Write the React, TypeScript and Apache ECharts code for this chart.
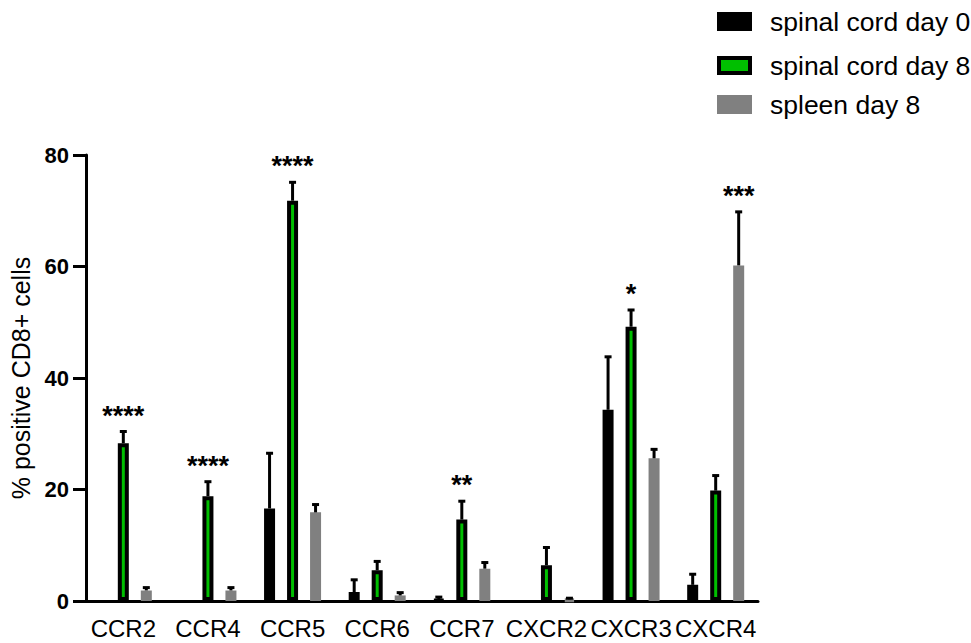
import React, { useEffect, useRef } from "react";
import * as echarts from "echarts";

const categories = ["CCR2", "CCR4", "CCR5", "CCR6", "CCR7", "CXCR2", "CXCR3", "CXCR4"];
const seriesNames = ["spinal cord day 0", "spinal cord day 8", "spleen day 8"];
const day0Means = [0, 0, 16.6, 1.6, 0.2, 0, 34.3, 2.9];
const day0Upper: (number | null)[] = [null, null, 26.5, 3.8, 0.7, null, 43.8, 4.8];
const day8Means = [28.3, 18.8, 71.8, 5.5, 14.6, 6.4, 49.2, 19.8];
const day8Upper: (number | null)[] = [30.4, 21.4, 75.1, 7.1, 17.9, 9.6, 52.2, 22.5];
const spleenMeans = [1.9, 1.9, 15.9, 1.0, 5.8, 0.3, 25.6, 60.2];
const spleenUpper: (number | null)[] = [2.4, 2.4, 17.3, 1.5, 6.9, 0.5, 27.2, 69.8];
const sigLabels = ["****", "****", "****", "", "**", "", "*", "***"];
const sigSeries = [1, 1, 1, 1, 1, 1, 1, 2];
const yTicks = [0, 20, 40, 60, 80];

const FONT = "'Liberation Sans', Arial, Helvetica, sans-serif";
const BAR_W = 11;
const BORDER = 4;
const BAR_GAP = 12 / 11;
const STEP = BAR_W + BAR_W * BAR_GAP;
const colors = ["#000000", "#00bf00", "#808080"];
const borders = ["#000000", "#000000", "#808080"];

const meansList = [day0Means, day8Means, spleenMeans];
const upperList = [day0Upper, day8Upper, spleenUpper];

export default function App() {
  const ref = useRef<HTMLDivElement>(null);
  useEffect(() => {
    if (!ref.current) return;
    const chart = echarts.init(ref.current, undefined, { renderer: "svg" });

    const barSeries = seriesNames.map((name, i) => ({
      name,
      type: "bar",
      data: meansList[i].map((v) => (v === 0 ? "-" : v)),
      barWidth: BAR_W,
      barGap: `${BAR_GAP * 100}%`,
      itemStyle: { color: colors[i], borderColor: borders[i], borderWidth: BORDER },
      z: 2,
    }));

    const errorSeries = seriesNames.map((name, i) => ({
      name: name + " err",
      type: "custom",
      z: 3,
      silent: true,
      data: categories
        .map((_, c) => [c, meansList[i][c], upperList[i][c]])
        .filter((d) => d[2] !== null),
      encode: { x: 0, y: 2 },
      renderItem: (params: any, api: any) => {
        const cat = api.value(0);
        const base = api.coord([cat, api.value(1)]);
        const top = api.coord([cat, api.value(2)]);
        const x = base[0] + STEP * (i - 1);
        return {
          type: "group",
          children: [
            {
              type: "line",
              shape: { x1: x, y1: base[1], x2: x, y2: top[1] },
              style: { stroke: "#000", lineWidth: 3 },
            },
            {
              type: "line",
              shape: { x1: x - 3.5, y1: top[1], x2: x + 3.5, y2: top[1] },
              style: { stroke: "#000", lineWidth: 3 },
            },
          ],
        };
      },
    }));

    const sigData = categories
      .map((_, c) => [c, upperList[sigSeries[c]][c] ?? 0, sigLabels[c], sigSeries[c]])
      .filter((d) => d[2] !== "");

    const sigSeriesDef = {
      name: "significance",
      type: "custom",
      z: 4,
      silent: true,
      data: sigData,
      encode: { x: 0, y: 1 },
      renderItem: (params: any, api: any) => {
        const d = sigData[params.dataIndex];
        const p = api.coord([d[0], d[1]]);
        const x = p[0] + STEP * ((d[3] as number) - 1);
        return {
          type: "text",
          style: {
            text: d[2],
            x,
            y: p[1] - 16,
            align: "center",
            verticalAlign: "middle",
            fontSize: 27,
            fontWeight: "bold",
            fontFamily: FONT,
            fill: "#000",
          },
        };
      },
    };

    const legendTops = [8, 52, 91];
    const legends = seriesNames.map((name, i) => ({
      data: [
        {
          name,
          icon: "rect",
          itemStyle: { color: colors[i], borderColor: borders[i], borderWidth: BORDER },
        },
      ],
      orient: "vertical",
      left: 717,
      top: legendTops[i],
      padding: 0,
      itemWidth: 31,
      itemHeight: 15,
      selectedMode: false,
      textStyle: { fontSize: 26.5, fontFamily: FONT, color: "#000", padding: [0, 0, 0, 15] },
    }));

    chart.setOption({
      animation: false,
      backgroundColor: "#ffffff",
      legend: legends,
      grid: { left: 81, top: 155, width: 677, height: 446, containLabel: false },
      xAxis: {
        type: "category",
        data: categories,
        axisLine: { lineStyle: { color: "#000", width: 3 } },
        axisTick: { alignWithLabel: true, length: 13, lineStyle: { color: "#000", width: 3 } },
        axisLabel: { color: "#000", fontSize: 24, fontFamily: FONT, margin: 15, interval: 0 },
      },
      yAxis: {
        type: "value",
        min: 0,
        max: 80,
        interval: 20,
        offset: -5,
        name: "% positive CD8+ cells",
        nameLocation: "middle",
        nameGap: 50,
        nameTextStyle: { color: "#000", fontSize: 25, fontFamily: FONT },
        axisLine: { show: true, lineStyle: { color: "#000", width: 3 } },
        axisTick: { show: true, length: 13, lineStyle: { color: "#000", width: 3 } },
        axisLabel: {
          color: "#000",
          fontSize: 22,
          fontWeight: "bold",
          fontFamily: FONT,
          margin: 17,
          formatter: (v: number) => (yTicks.includes(v) ? String(v) : ""),
        },
        splitLine: { show: false },
      },
      series: [...barSeries, ...errorSeries, sigSeriesDef],
    });
    return () => chart.dispose();
  }, []);
  return (
    <div
      ref={ref}
      style={{ position: "absolute", left: 0, top: 0, width: 971, height: 643, background: "#fff" }}
    />
  );
}
